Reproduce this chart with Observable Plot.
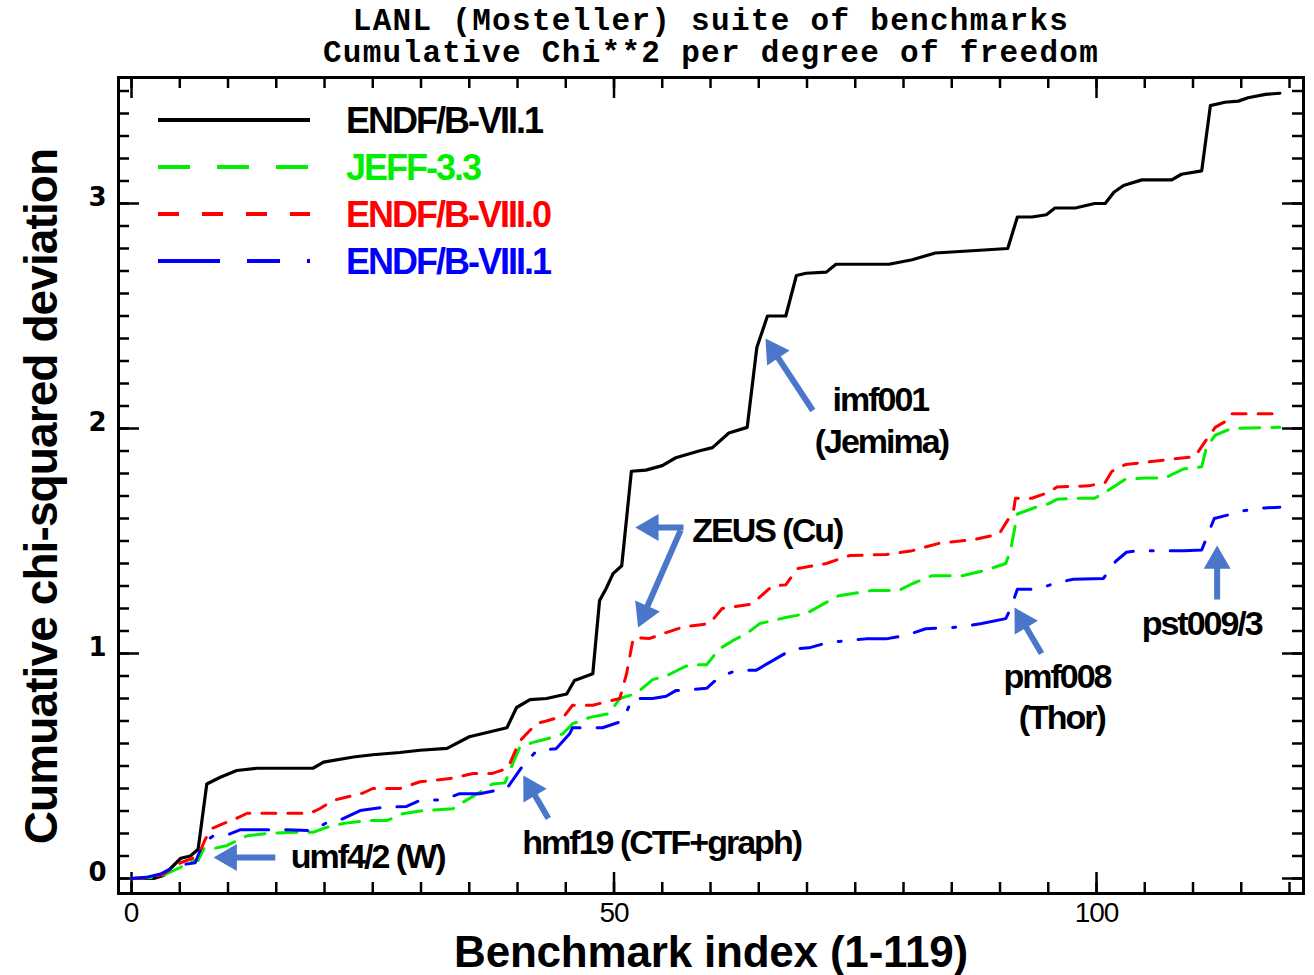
<!DOCTYPE html>
<html><head><meta charset="utf-8">
<script src="https://cdn.jsdelivr.net/npm/d3@7"></script>
<script src="https://cdn.jsdelivr.net/npm/@observablehq/plot@0.6"></script>
<style>
body{margin:0;background:#fff;}
#wrap{position:relative;width:1314px;height:975px;overflow:hidden;}
#legend{position:absolute;left:0;top:0;pointer-events:none;}
</style></head><body><div id="wrap"></div>
<script>
// ---------- data ----------
const seriesNames = ["ENDF/B-VII.1", "JEFF-3.3", "ENDF/B-VIII.0", "ENDF/B-VIII.1"];
const seriesColors = ["#000000", "#00ee00", "#ff0000", "#0000ff"];

const b71X = [0,2.3,3.3,5.1,6.1,6.9,7.8,9.2,10.9,13,18.8,19.9,23,25,27.8,29.9,32.7,35,38.9,39.9,41.3,43,45.1,45.9,47.8,48.5,49.2,49.9,50.8,51.8,53.3,55,56.4,58.8,60.2,61.9,63.8,64.8,65.9,67.8,68.9,69.9,72,73,78.5,80.9,83.3,87.1,90.8,91.8,93.3,94.8,95.7,97.8,99.8,100.9,101.8,102.8,104.7,107.8,108.8,110.9,111.8,113.3,114.7,115.7,117.5,119];
const b71Y = [0,0,0.013,0.09,0.10,0.13,0.42,0.45,0.48,0.49,0.49,0.517,0.54,0.55,0.56,0.57,0.578,0.63,0.67,0.76,0.795,0.80,0.82,0.88,0.91,1.235,1.29,1.355,1.39,1.81,1.815,1.835,1.87,1.90,1.915,1.98,2.005,2.36,2.50,2.50,2.68,2.69,2.695,2.73,2.73,2.75,2.78,2.79,2.80,2.94,2.94,2.95,2.98,2.98,3.00,3.00,3.05,3.08,3.105,3.105,3.13,3.145,3.435,3.45,3.455,3.47,3.485,3.49];

const jeffX = [0,2.3,3.3,5.1,6,6.9,7.5,8.2,9.9,12,14,16.8,18.8,20.2,22,24.4,26.5,28.1,29.9,33.3,34,36.1,37.4,38.7,39.5,40.2,41.6,43,44.7,45.7,47.5,49.5,50.6,52.3,54,55.4,56.8,57.8,59.6,60.9,62.3,63.8,65.1,67.8,69.9,72,73.3,76.7,79.5,80.9,82.9,86,88.5,89.9,90.6,91.1,91.8,93.7,95,95.9,97.8,99.8,101.4,103,105.1,107.1,109,110.9,111.4,112.3,114,119];
const jeffY = [0,0.005,0.015,0.05,0.08,0.08,0.133,0.13,0.147,0.19,0.20,0.205,0.205,0.227,0.245,0.258,0.258,0.288,0.30,0.31,0.33,0.383,0.42,0.425,0.51,0.58,0.605,0.62,0.643,0.688,0.716,0.733,0.80,0.822,0.884,0.90,0.93,0.95,0.95,1.02,1.057,1.09,1.133,1.16,1.177,1.227,1.257,1.28,1.28,1.31,1.345,1.345,1.37,1.39,1.40,1.46,1.62,1.65,1.665,1.685,1.69,1.69,1.73,1.775,1.78,1.78,1.82,1.83,1.917,1.97,2.00,2.005];

const b80X = [0,2.3,3.3,5.1,6.9,7.6,8.2,9.5,10.5,12,18.5,19.5,20.9,24,25,27.8,29.9,33,35.4,37.4,39,40.2,42,43,44.9,45.7,47.8,50.6,51.3,52,53.7,55.4,57.1,59.9,61.2,64.3,66.4,67.8,69,72,74.4,78.2,80.9,83.7,87.1,89.9,91.4,91.6,93.3,95,95.9,99.2,100.9,101.6,103,107.1,110.2,111.3,112.3,113.7,114,119];
const b80Y = [0,0.005,0.02,0.07,0.10,0.17,0.22,0.244,0.26,0.29,0.29,0.31,0.347,0.38,0.40,0.40,0.43,0.444,0.467,0.467,0.49,0.61,0.69,0.70,0.725,0.77,0.77,0.80,0.91,1.07,1.067,1.093,1.117,1.133,1.20,1.22,1.30,1.305,1.377,1.40,1.435,1.44,1.457,1.49,1.505,1.53,1.635,1.69,1.69,1.715,1.74,1.745,1.76,1.81,1.84,1.86,1.875,1.945,2.005,2.04,2.065,2.065];

const b81X = [0,1.5,3,4.7,6.6,7.1,7.8,8.5,10.2,11.3,16.1,18.8,20.3,21.6,23.7,26,28.5,29.9,32.3,34,36.1,38.2,38.9,40.7,42,44,45.4,45.7,48.8,50.9,51.9,54,55.4,56.4,59.6,60.9,62.7,64.7,66.8,68.5,70.2,72.3,76.1,78.2,80.2,82.3,85.7,88.1,90.6,91.1,91.8,93.8,95.9,97.6,100.7,102,103.1,104.3,109.1,110.9,111.5,112.2,114,115.3,117.4,119];
const b81Y = [0,0.005,0.02,0.058,0.07,0.124,0.17,0.19,0.198,0.217,0.217,0.213,0.25,0.26,0.302,0.316,0.32,0.347,0.35,0.377,0.377,0.395,0.40,0.51,0.568,0.577,0.643,0.67,0.67,0.70,0.80,0.80,0.81,0.835,0.845,0.895,0.925,0.925,0.977,1.02,1.025,1.05,1.065,1.065,1.08,1.11,1.117,1.133,1.155,1.20,1.285,1.285,1.315,1.33,1.333,1.41,1.45,1.457,1.457,1.46,1.525,1.60,1.62,1.635,1.647,1.65];

const xTickLabels = [0, 50, 100];
const yTickLabels = [0, 1, 2, 3];

const titleLines = ["LANL (Mosteller) suite of benchmarks", "Cumulative Chi**2 per degree of freedom"];
const xLabel = "Benchmark index (1-119)";
const yLabel = "Cumuative chi-squared deviation";

// annotation labels (data units)
const notesMiddle = [
  {text: "imf001", x: 77.6, y: 2.124},
  {text: "(Jemima)", x: 77.7, y: 1.938},
  {text: "pmf008", x: 95.9, y: 0.893},
  {text: "(Thor)", x: 96.4, y: 0.711},
  {text: "pst009/3", x: 110.9, y: 1.129}
];
const notesStart = [
  {text: "ZEUS (Cu)", x: 58.1, y: 1.542},
  {text: "umf4/2 (W)", x: 16.5, y: 0.093},
  {text: "hmf19 (CTF+graph)", x: 40.5, y: 0.156}
];
// arrows: tail (x1,y1) -> head (x2,y2), data units
const arrows = [
  {x1: 70.6, y1: 2.08, x2: 65.7, y2: 2.40},
  {x1: 57.2, y1: 1.56, x2: 52.2, y2: 1.56},
  {x1: 56.9, y1: 1.547, x2: 52.5, y2: 1.116},
  {x1: 14.9, y1: 0.093, x2: 8.5, y2: 0.093},
  {x1: 43.2, y1: 0.267, x2: 40.6, y2: 0.458},
  {x1: 94.3, y1: 1.0, x2: 91.5, y2: 1.204},
  {x1: 112.5, y1: 1.24, x2: 112.5, y2: 1.48}
];

// ---------- layout ----------
const W = 1314, H = 975, mL = 118, mR = 11, mT = 77, mB = 82;
const innerH = H - mT - mB, innerW = W - mL - mR;
const xDom = [-1.35, 121.45], yDom = [-0.0667, 3.56];
const arrowColor = "#4a77c9";
const dashes = [null, "20,12", "14,12", "40,17,22,17,3,17"];
const legendDashes = [null, "32,27", "21,23", "62,27,33,27,3,27"];
const sans = "Liberation Sans, Arial, sans-serif";

const rows = (xs, ys) => xs.map((x, i) => ({x, y: ys[i]}));
const series = [rows(b71X, b71Y), rows(jeffX, jeffY), rows(b80X, b80Y), rows(b81X, b81Y)];

// arrow geometry computed through the same linear mapping as the plot
const sx = d3.scaleLinear(xDom, [mL, W - mR]);
const sy = d3.scaleLinear(yDom, [H - mB, mT]);
const headR = 10, kk = 0.7776 * headR;
const heads = [], shafts = [];
for (const a of arrows) {
  const px1 = sx(a.x1), py1 = sy(a.y1), px2 = sx(a.x2), py2 = sy(a.y2);
  const dx = px2 - px1, dy = py2 - py1, len = Math.hypot(dx, dy);
  const ux = dx / len, uy = dy / len;
  heads.push({x: sx.invert(px2 - ux * 2 * kk), y: sy.invert(py2 - uy * 2 * kk), rot: Math.atan2(ux, -uy) * 180 / Math.PI});
  shafts.push({x1: a.x1, y1: a.y1, x2: sx.invert(px2 - ux * 2.2 * kk), y2: sy.invert(py2 - uy * 2.2 * kk)});
}

const minorX = d3.range(0, 121, 5), majorX = [0, 50, 100];
const minorY = d3.range(0, 36).map(i => i / 10), majorY = [0, 1, 2, 3];
const tickW = 2.5, minL = 11, majL = 21;

const marks = [
  // ticks (inward, all four sides)
  Plot.tickX(minorX, {x: d => d, insetTop: innerH - minL, strokeWidth: tickW}),
  Plot.tickX(minorX, {x: d => d, insetBottom: innerH - minL, strokeWidth: tickW}),
  Plot.tickX(majorX, {x: d => d, insetTop: innerH - majL, strokeWidth: tickW}),
  Plot.tickX(majorX, {x: d => d, insetBottom: innerH - majL, strokeWidth: tickW}),
  Plot.tickY(minorY, {y: d => d, insetRight: innerW - minL, strokeWidth: tickW}),
  Plot.tickY(minorY, {y: d => d, insetLeft: innerW - minL, strokeWidth: tickW}),
  Plot.tickY(majorY, {y: d => d, insetRight: innerW - majL, strokeWidth: tickW}),
  Plot.tickY(majorY, {y: d => d, insetLeft: innerW - majL, strokeWidth: tickW}),
  // series
  ...series.map((s, i) => Plot.line(s, {x: "x", y: "y", stroke: seriesColors[i], strokeWidth: i === 0 ? 3.2 : 3, strokeDasharray: dashes[i], strokeLinejoin: "round"})),
  // arrows
  Plot.link(shafts, {x1: "x1", y1: "y1", x2: "x2", y2: "y2", stroke: arrowColor, strokeWidth: 6}),
  Plot.dot(heads, {x: "x", y: "y", rotate: "rot", symbol: "triangle", r: headR, fill: arrowColor, stroke: null}),
  // annotation labels
  Plot.text(notesMiddle, {x: "x", y: "y", text: "text", textAnchor: "middle", lineAnchor: "middle", fontSize: 34, fontWeight: "bold", fontFamily: sans, fill: "#000"}),
  Plot.text(notesStart, {x: "x", y: "y", text: "text", textAnchor: "start", lineAnchor: "middle", fontSize: 34, fontWeight: "bold", fontFamily: sans, fill: "#000"}),
  // tick labels
  Plot.text(xTickLabels, {x: d => d, text: d => String(d), frameAnchor: "bottom", lineAnchor: "middle", textAnchor: "middle", dy: 20, fontSize: 28, fontFamily: sans, fill: "#000"}),
  Plot.text(yTickLabels, {y: d => d, text: d => String(d), frameAnchor: "left", lineAnchor: "middle", dx: -21, dy: -6, textAnchor: "middle", fontSize: 26, fontWeight: "bold", fontFamily: "DejaVu Sans, sans-serif", fill: "#000"}),
  // titles and axis labels
  Plot.text([titleLines[0]], {text: d => d, frameAnchor: "top", lineAnchor: "middle", textAnchor: "middle", dy: -57, fontSize: 31, fontWeight: "bold", fontFamily: "Liberation Mono, Courier New, monospace", fill: "#000"}),
  Plot.text([titleLines[1]], {text: d => d, frameAnchor: "top", lineAnchor: "middle", textAnchor: "middle", dy: -25, fontSize: 31, fontWeight: "bold", fontFamily: "Liberation Mono, Courier New, monospace", fill: "#000"}),
  Plot.text([xLabel], {text: d => d, frameAnchor: "bottom", lineAnchor: "middle", textAnchor: "middle", dy: 59, fontSize: 44, fontWeight: "bold", fontFamily: sans, fill: "#000"}),
  Plot.text([yLabel], {text: d => d, frameAnchor: "left", lineAnchor: "middle", textAnchor: "middle", dx: -76, dy: 11, rotate: -90, fontSize: 46, fontWeight: "bold", fontFamily: sans, fill: "#000"}),
  Plot.frame({stroke: "#000", strokeWidth: 3})
];

const chart = Plot.plot({
  width: W, height: H,
  marginLeft: mL, marginRight: mR, marginTop: mT, marginBottom: mB,
  x: {domain: xDom, axis: null},
  y: {domain: yDom, axis: null},
  style: {background: "#fff", overflow: "visible"},
  marks
});

const wrap = document.getElementById("wrap");
wrap.appendChild(chart);
// letter spacing by text content
const spacing = new Map([
  [titleLines[0], "1.3px"], [titleLines[1], "1.3px"],
  [xLabel, "-0.2px"], [yLabel, "-0.9px"],
  ...notesMiddle.map(n => [n.text, "-2px"]),
  ...notesStart.map(n => [n.text, "-2px"]),
  ["50", "-1px"], ["100", "-1px"]
]);
chart.querySelectorAll("text").forEach(t => {
  const ls = spacing.get(t.textContent);
  if (ls) t.style.letterSpacing = ls;
});

// legend (inside the plot frame, top-left)
const ns = "http://www.w3.org/2000/svg";
const lg = document.createElementNS(ns, "svg");
lg.setAttribute("id", "legend");
lg.setAttribute("width", 620); lg.setAttribute("height", 300);
const rowY = [120, 167, 214, 261];
seriesNames.forEach((name, i) => {
  const ln = document.createElementNS(ns, "line");
  ln.setAttribute("x1", 158); ln.setAttribute("x2", 310);
  ln.setAttribute("y1", rowY[i]); ln.setAttribute("y2", rowY[i]);
  ln.setAttribute("stroke", seriesColors[i]); ln.setAttribute("stroke-width", 4);
  if (legendDashes[i]) ln.setAttribute("stroke-dasharray", legendDashes[i]);
  lg.appendChild(ln);
  const tx = document.createElementNS(ns, "text");
  tx.setAttribute("x", 346); tx.setAttribute("y", rowY[i] + 13);
  tx.setAttribute("fill", seriesColors[i]);
  tx.setAttribute("font-family", sans);
  tx.setAttribute("font-weight", "bold");
  tx.setAttribute("font-size", 36);
  tx.style.letterSpacing = "-2px";
  tx.textContent = name;
  lg.appendChild(tx);
});
wrap.appendChild(lg);
</script></body></html>
